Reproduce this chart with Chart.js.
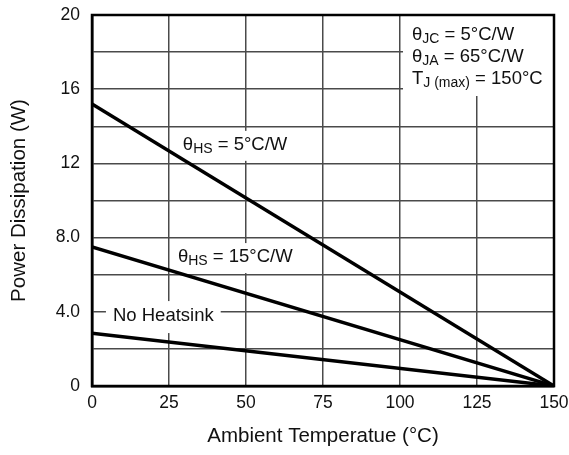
<!DOCTYPE html>
<html>
<head>
<meta charset="utf-8">
<script src="https://cdn.jsdelivr.net/npm/chart.js@4"></script>
<style>
  html, body { margin: 0; padding: 0; background: #fff; }
  canvas { display: block; }
</style>
</head>
<body>
<canvas id="c" width="569" height="455"></canvas>
<script>
// ---- data ----
const xValues = [0, 150];                 // Ambient temperature (°C)
const hs5Values = [15.2, 0];              // θHS = 5°C/W
const hs15Values = [7.5, 0];              // θHS = 15°C/W
const noHeatsinkValues = [2.85, 0];       // No heatsink
const xTickValues = [0, 25, 50, 75, 100, 125, 150];
const xTickLabels = ['0', '25', '50', '75', '100', '125', '150'];
const yTickValues = [0, 4, 8, 12, 16, 20];
const yTickLabels = ['0', '4.0', '8.0', '12', '16', '20'];
const xTitle = 'Ambient Temperatue (°C)';
const yTitle = 'Power Dissipation (W)';

const FONT = "'Liberation Sans', Arial, sans-serif";

function pts(ys) { return xValues.map((x, i) => ({ x: x, y: ys[i] })); }

// rich text annotations (positions in data units)
const annotations = [
  { x: 29.5, y: 13.0, parts: [['θ'], ['HS', 1], [' = 5°C/W']], pad: [5, 4] },
  { x: 27.9, y: 6.95, parts: [['θ'], ['HS', 1], [' = 15°C/W']], pad: [5, 4] },
  { x: 6.8, y: 3.77, parts: [['No Heatsink']], pad: [7, 5] }
];
const boxLines = [
  { y: 18.9, parts: [['θ'], ['JC', 1], [' = 5°C/W']] },
  { y: 17.75, parts: [['θ'], ['JA', 1], [' = 65°C/W']] },
  { y: 16.55, parts: [['T'], ['J (max)', 1], [' = 150°C']] }
];
const boxX = 103.9;

const MAIN = 18.5, SUB = 14;
function measure(ctx, parts) {
  let w = 0;
  parts.forEach(p => { ctx.font = (p[1] ? SUB : MAIN) + 'px ' + FONT; w += ctx.measureText(p[0]).width; });
  return w;
}
function drawRich(ctx, x, y, parts) {
  ctx.textBaseline = 'middle';
  ctx.textAlign = 'left';
  ctx.fillStyle = '#111';
  parts.forEach(p => {
    ctx.font = (p[1] ? SUB : MAIN) + 'px ' + FONT;
    ctx.fillText(p[0], x, y + (p[1] ? 4 : 0));
    x += ctx.measureText(p[0]).width;
  });
}

const annotPlugin = {
  id: 'annot',
  beforeDatasetsDraw(chart) {
    const ctx = chart.ctx, xs = chart.scales.x, ys = chart.scales.y, a = chart.chartArea;
    ctx.save();
    annotations.forEach(an => {
      const px = xs.getPixelForValue(an.x), py = ys.getPixelForValue(an.y);
      const w = measure(ctx, an.parts);
      ctx.fillStyle = '#fff';
      ctx.fillRect(px - an.pad[0], py - 10 - an.pad[1], w + 2 * an.pad[0], 22 + 2 * an.pad[1]);
    });
    const bx = xs.getPixelForValue(boxX) - 9;
    const by = ys.getPixelForValue(boxLines[boxLines.length - 1].y) + 17;
    ctx.fillStyle = '#fff';
    ctx.fillRect(bx, a.top, a.right - bx, by - a.top);
    ctx.restore();
  },
  afterDatasetsDraw(chart) {
    const ctx = chart.ctx, xs = chart.scales.x, ys = chart.scales.y, a = chart.chartArea;
    ctx.save();
    annotations.forEach(an => drawRich(ctx, xs.getPixelForValue(an.x), ys.getPixelForValue(an.y), an.parts));
    boxLines.forEach(l => drawRich(ctx, xs.getPixelForValue(boxX), ys.getPixelForValue(l.y), l.parts));
    ctx.strokeStyle = '#000';
    ctx.lineWidth = 2.5;
    ctx.strokeRect(a.left, a.top, a.right - a.left, a.bottom - a.top);
    ctx.restore();
  }
};

const lineStyle = { borderColor: '#000', borderWidth: 3.5, pointRadius: 0, fill: false, tension: 0 };

function zeroPad(s) { s.paddingTop = 0; s.paddingBottom = 0; s.paddingLeft = 0; s.paddingRight = 0; }

new Chart(document.getElementById('c'), {
  type: 'line',
  data: {
    datasets: [
      Object.assign({ label: 'θHS = 5°C/W', data: pts(hs5Values) }, lineStyle),
      Object.assign({ label: 'θHS = 15°C/W', data: pts(hs15Values) }, lineStyle),
      Object.assign({ label: 'No Heatsink', data: pts(noHeatsinkValues) }, lineStyle)
    ]
  },
  options: {
    responsive: false,
    animation: false,
    devicePixelRatio: 1,
    layout: { padding: { top: 15, right: 15, left: 0, bottom: 0 } },
    plugins: { legend: { display: false }, tooltip: { enabled: false } },
    scales: {
      x: {
        type: 'linear', min: 0, max: 150,
        afterFit(s) { s.height = 69; zeroPad(s); },
        afterBuildTicks(s) { s.ticks = xTickValues.map(v => ({ value: v })); },
        ticks: {
          padding: 7, color: '#111', font: { family: FONT, size: 17.5 },
          maxRotation: 0, autoSkip: false,
          callback: v => { const i = xTickValues.indexOf(v); return i >= 0 ? xTickLabels[i] : ''; }
        },
        grid: { color: '#4a4a4a', lineWidth: 1.5, drawTicks: false },
        border: { color: '#000', width: 2.5 },
        title: { display: true, text: xTitle, color: '#111', font: { family: FONT, size: 20.5 }, padding: { top: 0, bottom: 6 } }
      },
      y: {
        type: 'linear', min: 0, max: 20,
        afterFit(s) { s.width = 92; zeroPad(s); },
        ticks: {
          stepSize: 2, padding: 12, color: '#111', font: { family: FONT, size: 17.5 },
          autoSkip: false,
          callback: v => { const i = yTickValues.indexOf(v); return i >= 0 ? yTickLabels[i] : ''; }
        },
        grid: { color: '#4a4a4a', lineWidth: 1.5, drawTicks: false },
        border: { color: '#000', width: 2.5 },
        title: { display: true, text: yTitle, color: '#111', font: { family: FONT, size: 20.5 }, padding: { top: 7, bottom: 0 } }
      }
    }
  },
  plugins: [annotPlugin]
});
</script>
</body>
</html>
